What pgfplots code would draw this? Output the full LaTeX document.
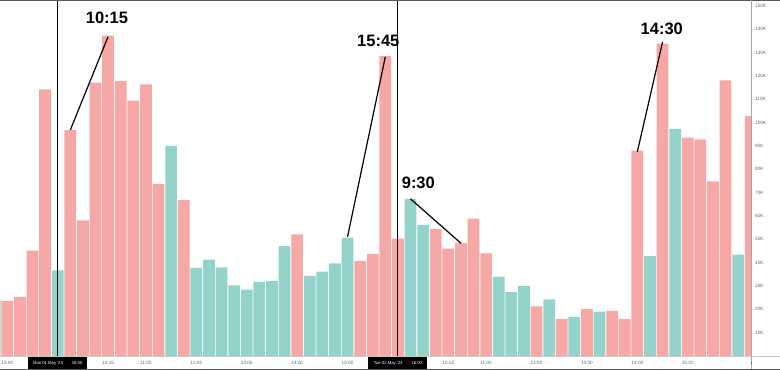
\documentclass[border=0pt]{standalone}
\usepackage{pgfplots}
\pgfplotsset{compat=1.18}
\usepackage{fontspec}
\setmainfont{Liberation Sans}
\definecolor{pinkbar}{HTML}{F6A8A6}
\definecolor{tealbar}{HTML}{93D3CB}
\definecolor{ticktxt}{HTML}{666666}
\begin{document}
\begin{tikzpicture}
\begin{axis}[
  at={(0,0)}, anchor=south west,
  scale only axis, width=751bp, height=356bp,
  xmin=-0.579, xmax=59.02, ymin=0, ymax=152.5,
  ybar, bar width=0.93, bar shift=0pt,
  axis line style={draw=none},
  major tick length=0pt,
  xtick={0,8,11,15,19,23,27,35,38,42,46,50,54},
  xticklabels={15:00,10:15,11:00,12:00,13:00,14:00,15:00,10:15,11:00,12:00,13:00,14:00,15:00},
  xticklabel style={anchor=center, yshift=-7bp, inner sep=0pt, text=ticktxt, font=\fontsize{4.7bp}{5bp}\selectfont},
  ytick={10,20,30,40,50,60,70,80,90,100,110,120,130,140,150},
  yticklabels={10K,20K,30K,40K,50K,60K,70K,80K,90K,100K,110K,120K,130K,140K,150K},
  yticklabel pos=right,
  yticklabel style={anchor=west, xshift=4bp, inner sep=0pt, text=ticktxt, font=\fontsize{4.7bp}{5bp}\selectfont},
  clip=true,
]
\addplot[fill=pinkbar, draw=none] coordinates {
(0,23.6) (1,25.3) (2,45.1) (3,114.2) (5,96.8) (6,58.1) (7,117.1) (8,137.2)
(9,117.8) (10,109.4) (11,116.4) (12,73.7) (14,66.8) (23,52.1) (28,40.8)
(29,43.6) (30,128.5) (31,50.3) (34,54.3) (35,46.0) (36,48.4) (37,58.8)
(38,44.0) (42,21.3) (44,15.9) (46,20.1) (48,19.3) (49,15.9) (50,88.0)
(52,133.8) (54,93.5) (55,92.8) (56,74.8) (57,118.1) (59,102.8)
};
\addplot[fill=tealbar, draw=none] coordinates {
(-1,24) (4,36.7) (13,90.0) (15,37.8) (16,41.3) (17,38.0) (18,30.3) (19,28.4)
(20,31.7) (21,32.1) (22,47.1) (24,34.3) (25,36.1) (26,39.7) (27,50.7)
(32,67.3) (33,56.1) (39,34.0) (40,27.4) (41,30.0) (43,24.3) (45,16.8)
(47,19.0) (51,42.8) (53,97.3) (58,43.4)
};
% session separators
\draw[black, line width=0.9bp] (axis cs:4,0) -- (axis cs:4,152.5);
\draw[black, line width=0.9bp] (axis cs:31,0) -- (axis cs:31,152.5);
% annotations
\draw[black, line width=1.2bp] (axis cs:8,136.8) -- (axis cs:5,96.8);
\draw[black, line width=1.2bp] (axis cs:30,128.2) -- (axis cs:27,51);
\draw[black, line width=1.2bp] (axis cs:32,67.3) -- (axis cs:36,48.3);
\draw[black, line width=1.2bp] (axis cs:52,134.5) -- (axis cs:50,87.5);
\node[font=\bfseries\fontsize{16.5bp}{18bp}\selectfont, inner sep=0pt] at (axis cs:7.91,144.8) {10:15};
\node[font=\bfseries\fontsize{16.5bp}{18bp}\selectfont, inner sep=0pt] at (axis cs:29.44,135.1) {15:45};
\node[font=\bfseries\fontsize{16.5bp}{18bp}\selectfont, inner sep=0pt] at (axis cs:32.62,74.0) {9:30};
\node[font=\bfseries\fontsize{16.5bp}{18bp}\selectfont, inner sep=0pt] at (axis cs:51.94,140.0) {14:30};
\end{axis}
% frame lines
\draw[color=black!20, line width=0.8bp] (0,-0.6bp) -- (780bp,-0.6bp);
\draw[color=black!65, line width=1bp] (0,-13bp) -- (780bp,-13bp);
\draw[color=black!65, line width=1.2bp] (0,355.4bp) -- (780bp,355.4bp);
\draw[color=black!35, line width=0.9bp] (751bp,-13bp) -- (751bp,356bp);
\draw[color=black!60, line width=0.6bp] (751bp,-6bp) -- (751bp,-8bp);
% date boxes
\node[fill=black, text=white, minimum width=59bp, minimum height=11.3bp, inner sep=0pt, anchor=north,
      font=\fontsize{4.2bp}{5bp}\selectfont] at (57.7bp,-1.2bp) {Mon 01 May '23\hspace{9bp}16:00};
\node[fill=black, text=white, minimum width=59bp, minimum height=11.3bp, inner sep=0pt, anchor=north,
      font=\fontsize{4.2bp}{5bp}\selectfont] at (397.9bp,-1.2bp) {Tue 02 May '23\hspace{9bp}16:00};
\pgfresetboundingbox
\useasboundingbox (0,-14bp) rectangle (780bp,356bp);
\end{tikzpicture}
\end{document}
